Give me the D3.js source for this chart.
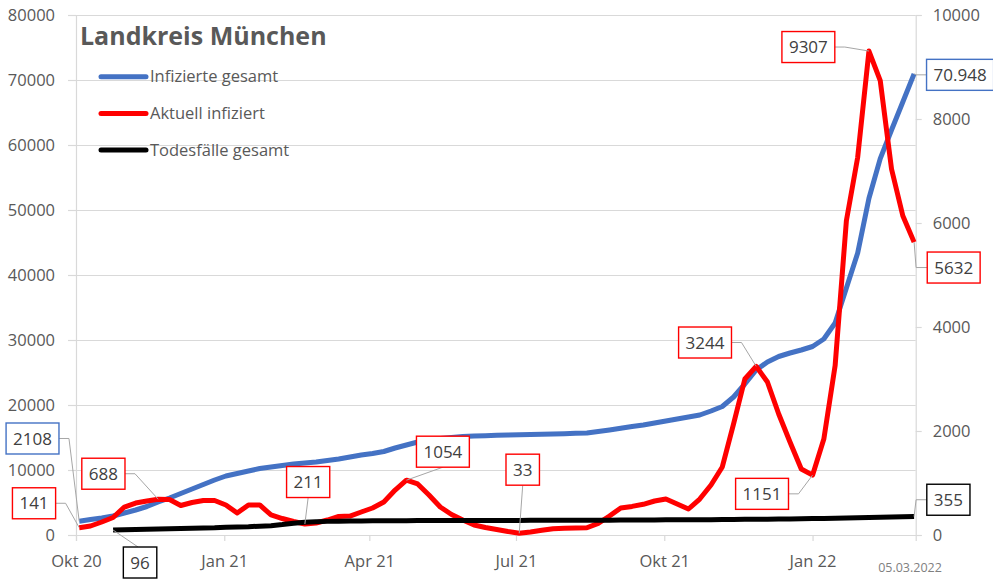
<!DOCTYPE html>
<html>
<head>
<meta charset="utf-8">
<script src="https://cdn.jsdelivr.net/npm/d3@7"></script>
<style>
  body { margin: 0; background: #fff; }
  text { font-family: "Open Sans", "DejaVu Sans", sans-serif; }
</style>
</head>
<body>
<script>
// weekly reporting dates (Saturdays)
const weeks = [
  "2020-10-03","2020-10-10","2020-10-17","2020-10-24","2020-10-31",
  "2020-11-07","2020-11-14","2020-11-21","2020-11-28",
  "2020-12-05","2020-12-12","2020-12-19","2020-12-26",
  "2021-01-02","2021-01-09","2021-01-16","2021-01-23","2021-01-30",
  "2021-02-06","2021-02-13","2021-02-20","2021-02-27",
  "2021-03-06","2021-03-13","2021-03-20","2021-03-27",
  "2021-04-03","2021-04-10","2021-04-17","2021-04-24",
  "2021-05-01","2021-05-08","2021-05-15","2021-05-22","2021-05-29",
  "2021-06-05","2021-06-12","2021-06-19","2021-06-26",
  "2021-07-03","2021-07-10","2021-07-17","2021-07-24","2021-07-31",
  "2021-08-07","2021-08-14","2021-08-21","2021-08-28",
  "2021-09-04","2021-09-11","2021-09-18","2021-09-25",
  "2021-10-02","2021-10-09","2021-10-16","2021-10-23","2021-10-30",
  "2021-11-06","2021-11-13","2021-11-20","2021-11-27",
  "2021-12-04","2021-12-11","2021-12-18","2021-12-25",
  "2022-01-01","2022-01-08","2022-01-15","2022-01-22","2022-01-29",
  "2022-02-05","2022-02-12","2022-02-19","2022-02-26",
  "2022-03-05"
];

// Infizierte gesamt (linke Achse)
const infiziertGesamt = [
  2108, 2385, 2615, 2923, 3385, 3846, 4385, 5077, 5692, 6385,
  7077, 7769, 8462, 9077, 9462, 9846, 10231, 10462, 10692, 10923,
  11077, 11231, 11462, 11692, 12000, 12308, 12538, 12846, 13385, 13846,
  14308, 14615, 14846, 15000, 15154, 15231, 15277, 15338, 15385, 15415,
  15462, 15492, 15538, 15585, 15646, 15692, 15923, 16154, 16415, 16692,
  16923, 17231, 17538, 17846, 18154, 18462, 19077, 19769, 21231, 23231,
  25385, 26615, 27462, 28000, 28462, 29000, 30154, 32615, 38000, 43385,
  51800, 57900, 62308, 66615, 70948
];

// Aktuell infiziert (rechte Achse)
const aktuellInfiziert = [
  141, 173, 250, 336, 538, 615, 654, 688, 682, 567,
  625, 663, 663, 577, 423, 577, 577, 385, 317, 260,
  211, 231, 288, 356, 365, 442, 519, 635, 865, 1054,
  981, 769, 538, 394, 288, 192, 144, 106, 67, 33,
  58, 90, 120, 128, 133, 140, 225, 365, 520, 550,
  590, 654, 692, 596, 500, 692, 962, 1308, 2135, 3000,
  3244, 2942, 2327, 1788, 1269, 1151, 1846, 3256, 6045, 7263,
  9307, 8737, 7038, 6140, 5632
];

// Todesfälle gesamt (rechte Achse), beginnt erst am 24.10.2020
const todesfaelle = [
  null, null, null, 96, 100, 105, 110, 115, 120, 125,
  130, 135, 140, 150, 155, 160, 170, 180, 200, 225,
  245, 255, 262, 266, 269, 271, 273, 274, 275, 276,
  277, 277, 278, 278, 279, 279, 280, 280, 281, 281,
  282, 282, 283, 283, 284, 284, 285, 286, 287, 288,
  289, 290, 291, 292, 293, 294, 295, 297, 299, 301,
  303, 305, 307, 309, 312, 315, 318, 321, 325, 330,
  336, 342, 347, 351, 355
];

const leftTicks = [0, 10000, 20000, 30000, 40000, 50000, 60000, 70000, 80000];
const rightTicks = [0, 2000, 4000, 6000, 8000, 10000];
const quarterTicks = ["2020-10-01", "2021-01-01", "2021-04-01", "2021-07-01", "2021-10-01", "2022-01-01"];
const quarterLabels = ["Okt 20", "Jan 21", "Apr 21", "Jul 21", "Okt 21", "Jan 22"];
const seriesNames = ["Infizierte gesamt", "Aktuell infiziert", "Todesfälle gesamt"];
const chartTitle = "Landkreis München";
const standDatum = "05.03.2022";

// which points carry a value box
const callouts = [
  {s: 0, i: 0}, {s: 1, i: 0}, {s: 1, i: 7}, {s: 2, i: 3},
  {s: 1, i: 20}, {s: 1, i: 29}, {s: 1, i: 39}, {s: 1, i: 60},
  {s: 1, i: 65}, {s: 1, i: 70}, {s: 0, i: 74, de: true}, {s: 1, i: 74}, {s: 2, i: 74}
];
// box placement relative to the point (layout only)
const calloutPlace = [
  {dx: -46.7, dy: -82.8, lead: "right"},
  {dx: -45.2, dy: -24.4, lead: "right"},
  {dx: -54.8, dy: -25.5, lead: "right"},
  {dx: 27, dy: 32.5, lead: "top"},
  {dx: 3.3, dy: -42, lead: "bottom"},
  {dx: 36.5, dy: -28.5, lead: "bottom"},
  {dx: 3.5, dy: -63.6, lead: "bottom"},
  {dx: -51.1, dy: -23.8, lead: "right"},
  {dx: -50.5, dy: 18.7, lead: "right"},
  {dx: -60.6, dy: -4, lead: "right"},
  {dx: 46, dy: 1, lead: "left"},
  {dx: 39.6, dy: 25.4, lead: "left"},
  {dx: 34.3, dy: -16.8, lead: "left"}
];

const width = 993, height = 579;
const plot = {left: 76, right: 915.7, top: 15, bottom: 535};
const colors = ["#4472C4", "#FF0000", "#000000"];
const textColor = "#595959";
const gridColor = "#D9D9D9";

const parse = d3.timeParse("%Y-%m-%d");
const dates = weeks.map(parse);

const x = d3.scaleTime()
    .domain([parse("2020-10-01"), parse("2022-03-06")])
    .range([plot.left, plot.right]);
const yLeft = d3.scaleLinear().domain([0, 80000]).range([plot.bottom, plot.top]);
const yRight = d3.scaleLinear().domain([0, 10000]).range([plot.bottom, plot.top]);

const series = [infiziertGesamt, aktuellInfiziert, todesfaelle];
const seriesScale = [yLeft, yRight, yRight];

const svg = d3.select("body").append("svg")
    .attr("width", width)
    .attr("height", height)
    .attr("viewBox", [0, 0, width, height]);

// gridlines
svg.append("g")
    .attr("transform", `translate(${plot.left},0)`)
    .call(d3.axisLeft(yLeft).tickValues(leftTicks).tickSize(-(plot.right - plot.left)).tickFormat(""))
    .call(g => g.select(".domain").remove())
    .call(g => g.selectAll("line").attr("stroke", gridColor).attr("stroke-width", 1.2));

// left axis
svg.append("g")
    .attr("transform", `translate(${plot.left},0)`)
    .call(d3.axisLeft(yLeft).tickValues(leftTicks).tickSize(8).tickPadding(13).tickFormat(d3.format("d")))
    .call(g => g.select(".domain").attr("stroke", gridColor).attr("stroke-width", 1.2))
    .call(g => g.selectAll("line").attr("stroke", gridColor).attr("stroke-width", 1.2))
    .call(g => g.selectAll("text").attr("fill", textColor).attr("font-size", 16.5)
        .attr("font-family", "Open Sans"));

// right axis
svg.append("g")
    .attr("transform", `translate(${plot.right},0)`)
    .call(d3.axisRight(yRight).tickValues(rightTicks).tickSize(6).tickPadding(11).tickFormat(d3.format("d")))
    .call(g => g.select(".domain").attr("stroke", gridColor).attr("stroke-width", 1.2))
    .call(g => g.selectAll("line").attr("stroke", gridColor).attr("stroke-width", 1.2))
    .call(g => g.selectAll("text").attr("fill", textColor).attr("font-size", 16.5)
        .attr("font-family", "Open Sans"));

// bottom axis
svg.append("g")
    .attr("transform", `translate(0,${plot.bottom})`)
    .call(d3.axisBottom(x).tickValues(quarterTicks.map(parse)).tickSize(6).tickPadding(14)
        .tickFormat((d, i) => quarterLabels[i]))
    .call(g => g.select(".domain").attr("stroke", gridColor).attr("stroke-width", 1.2))
    .call(g => g.selectAll("line").attr("stroke", gridColor).attr("stroke-width", 1.2))
    .call(g => g.selectAll("text").attr("fill", textColor).attr("font-size", 16.5)
        .attr("font-family", "Open Sans"));

// lines
series.forEach((vals, k) => {
  const line = d3.line()
      .defined(d => d != null)
      .x((d, i) => x(dates[i]))
      .y(d => seriesScale[k](d));
  svg.append("path")
      .attr("fill", "none")
      .attr("stroke", colors[k])
      .attr("stroke-width", 5)
      .attr("stroke-linejoin", "round")
      .attr("d", line(vals));
});

// title
svg.append("text")
    .attr("x", 80)
    .attr("y", 45)
    .attr("font-size", 25)
    .attr("font-weight", "bold")
    .attr("fill", textColor)
    .text(chartTitle);

// legend
const legend = svg.append("g");
seriesNames.forEach((name, k) => {
  const ly = 76.7 + k * 36.7;
  legend.append("line")
      .attr("x1", 101).attr("x2", 146)
      .attr("y1", ly).attr("y2", ly)
      .attr("stroke", colors[k])
      .attr("stroke-width", 5)
      .attr("stroke-linecap", "round");
  legend.append("text")
      .attr("x", 150)
      .attr("y", ly)
      .attr("dy", "0.35em")
      .attr("font-size", 16.5)
      .attr("fill", textColor)
      .text(name);
});

// value boxes
const fmtDe = d3.formatLocale({decimal: ",", thousands: ".", grouping: [3], currency: ["", "€"]}).format(",");
const boxes = svg.append("g");
callouts.forEach((c, n) => {
  const place = calloutPlace[n];
  const v = series[c.s][c.i];
  const px = x(dates[c.i]);
  const py = seriesScale[c.s](v);
  const cx = px + place.dx, cy = py + place.dy;
  const g = boxes.append("g");
  const leader = g.append("path")
      .attr("fill", "none")
      .attr("stroke", "#A6A6A6")
      .attr("stroke-width", 1);
  const rect = g.append("rect")
      .attr("fill", "#fff")
      .attr("stroke", colors[c.s])
      .attr("stroke-width", 1.4);
  const t = g.append("text")
      .attr("x", cx)
      .attr("y", cy)
      .attr("dy", "0.36em")
      .attr("text-anchor", "middle")
      .attr("font-size", 17)
      .attr("fill", "#404040")
      .text(c.de ? fmtDe(v) : String(v));
  const w = t.node().getComputedTextLength() + 14;
  const h = 31;
  rect.attr("x", cx - w / 2).attr("y", cy - h / 2).attr("width", w).attr("height", h);
  let d;
  if (place.lead === "right") {
    d = `M${cx + w / 2},${cy}H${cx + w / 2 + 10}L${px},${py}`;
  } else if (place.lead === "left") {
    d = `M${px},${py}L${px + 2},${cy}H${cx - w / 2}`;
  } else if (place.lead === "bottom") {
    d = `M${cx},${cy + h / 2}L${px},${py}`;
  } else {
    d = `M${px},${py}L${cx - 2},${cy - h / 2}`;
  }
  leader.attr("d", d);
});

// date stamp
svg.append("text")
    .attr("x", 910)
    .attr("y", 572)
    .attr("text-anchor", "middle")
    .attr("font-size", 12.5)
    .attr("fill", "#808080")
    .text(standDatum);
</script>
</body>
</html>
